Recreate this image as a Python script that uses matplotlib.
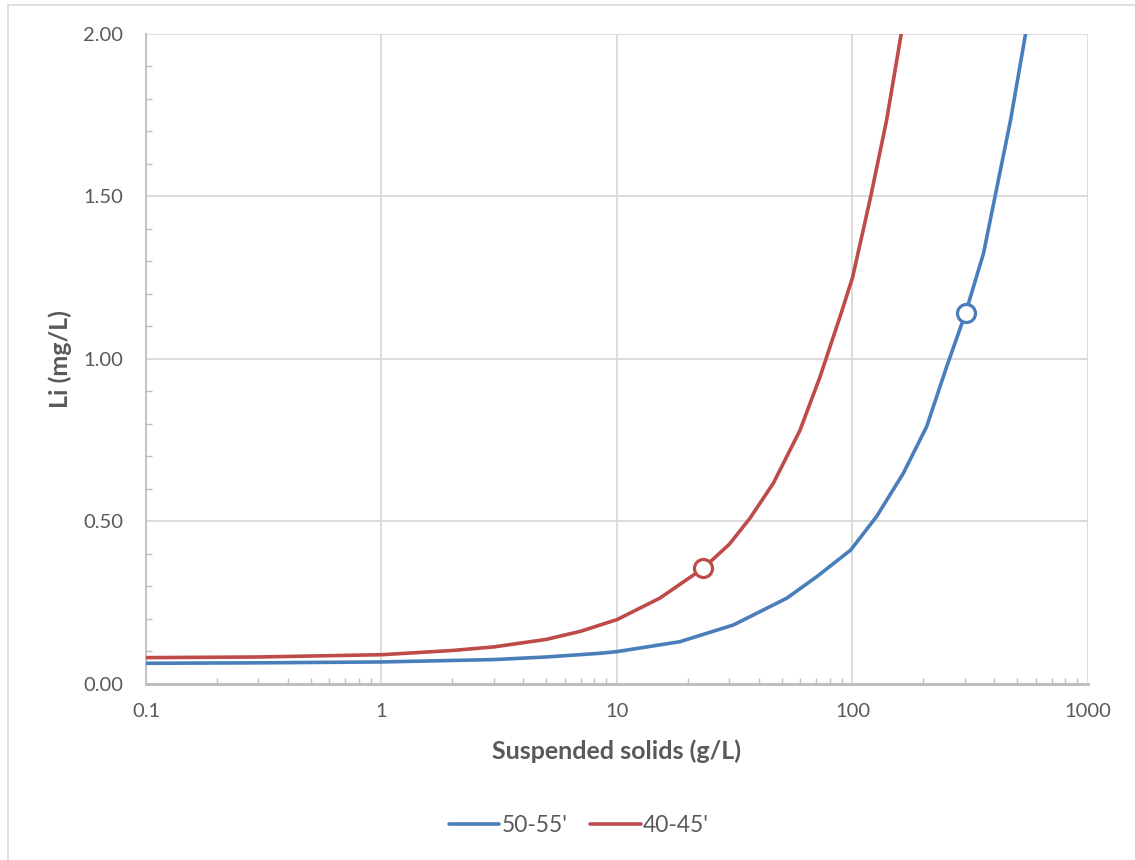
import matplotlib.pyplot as plt
from matplotlib.ticker import FixedLocator, LogLocator, NullFormatter, MultipleLocator
from matplotlib.patches import Rectangle

plt.rcParams['font.family'] = ['Lato', 'DejaVu Sans']

# values
ss_blue = [0.1, 0.3, 1, 3, 5, 8.5, 10, 18.5, 31.2, 52.5, 70.5, 98.2, 126.5, 164.3, 206.5, 251, 302,
           360, 403, 469, 543]
li_blue = [0.0636, 0.065, 0.0677, 0.075, 0.083, 0.0944, 0.0995, 0.130, 0.1815, 0.2636, 0.330, 0.412,
           0.515, 0.648, 0.792, 0.976, 1.141, 1.325, 1.50, 1.735, 2.0]
ss_red = [0.1, 0.3, 1, 2, 3, 5, 7, 10, 15.2, 23.25, 30, 36.7, 46.1, 59.8, 72.8, 88.5, 100, 119.5,
          139.6, 161]
li_red = [0.081, 0.083, 0.090, 0.103, 0.114, 0.137, 0.162, 0.198, 0.264, 0.356, 0.43, 0.51, 0.6175,
          0.78, 0.945, 1.13, 1.25, 1.50, 1.735, 2.0]

# highlighted points
pt_blue = (302, 1.141)
pt_red = (23.25, 0.356)

blue = "#4A7EBB"
red = "#BE4B48"
txt = "#595959"

fig = plt.figure(figsize=(11.35, 8.6), dpi=100)
ax = fig.add_axes([0.1286, 0.2047, 0.83, 0.7558])

ax.plot(ss_blue, li_blue, color=blue, lw=2.6, label="50-55'", solid_capstyle="round",
        solid_joinstyle="round", zorder=3)
ax.plot(ss_red, li_red, color=red, lw=2.6, label="40-45'", solid_capstyle="round",
        solid_joinstyle="round", zorder=3)
ax.plot(*pt_blue, "o", ms=13, mfc="white", mec=blue, mew=2.3, zorder=4)
ax.plot(*pt_red, "o", ms=13, mfc="white", mec=red, mew=2.3, zorder=4)

ax.set_xscale("log")
ax.set_xlim(0.1, 1000)
ax.set_ylim(0, 2.0)

ax.xaxis.set_major_locator(FixedLocator([0.1, 1, 10, 100, 1000]))
ax.set_xticklabels(["0.1", "1", "10", "100", "1000"])
ax.xaxis.set_minor_locator(LogLocator(base=10, subs=range(2, 10)))
ax.xaxis.set_minor_formatter(NullFormatter())
ax.yaxis.set_major_locator(MultipleLocator(0.5))
ax.yaxis.set_minor_locator(MultipleLocator(0.1))
ax.yaxis.set_major_formatter(lambda v, p: "%.2f" % v)

ax.grid(True, which="major", color="#D9D9D9", lw=1.3)
ax.set_axisbelow(True)
for s in ["top", "right"]:
    ax.spines[s].set_visible(False)
ax.spines["left"].set_color("#BFBFBF")
ax.spines["left"].set_linewidth(1.3)
ax.spines["bottom"].set_color("#BFBFBF")
ax.spines["bottom"].set_linewidth(2.2)

ax.tick_params(which="major", length=0, labelsize=14.5, labelcolor=txt)
ax.tick_params(axis="y", which="major", pad=16.5)
ax.tick_params(axis="x", which="major", pad=14)
ax.tick_params(which="minor", direction="in", length=4, color="#BFBFBF", width=1)

ax.set_xlabel("Suspended solids (g/L)", fontsize=18, fontweight="bold", color=txt, labelpad=14)
ax.set_ylabel("Li (mg/L)", fontsize=18, fontweight="bold", color=txt, labelpad=8)

fig.legend(loc="center", bbox_to_anchor=(0.51, 0.04), ncol=2, frameon=False, fontsize=16.5,
           handlelength=2.2, handletextpad=0.1, columnspacing=1.0, labelcolor=txt)

fig.patches.append(Rectangle((0.007, -0.01), 1.0, 1.004, transform=fig.transFigure,
                             fill=False, ec="#D9D9D9", lw=1.2))

fig.savefig("out.png", dpi=100)
